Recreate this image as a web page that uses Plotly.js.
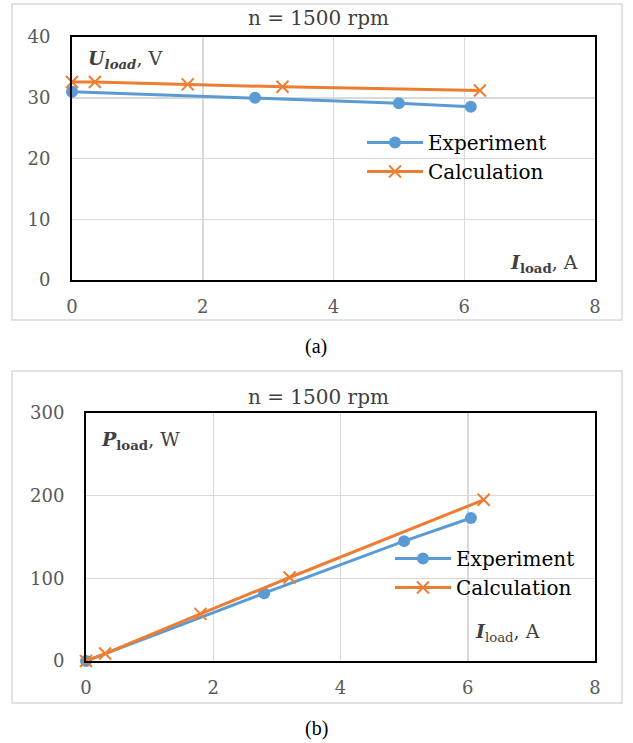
<!DOCTYPE html>
<html>
<head>
<meta charset="utf-8">
<script src="https://cdn.plot.ly/plotly-3.0.1.min.js"></script>
<style>html,body{margin:0;padding:0;background:#fff;}#chart{width:633px;height:743px;}</style>
</head>
<body>
<div id="chart"></div>
<script>
// ---- data ----
const uExpX = [0, 2.8, 5.0, 6.1];
const uExpY = [31.0, 30.0, 29.1, 28.5];
const uCalX = [0, 0.35, 1.77, 3.22, 6.24];
const uCalY = [32.6, 32.6, 32.2, 31.8, 31.2];

const pExpX = [0, 2.8, 5.0, 6.05];
const pExpY = [0, 82, 145, 173];
const pCalX = [0, 0.3, 1.8, 3.2, 6.25];
const pCalY = [0, 9, 57, 101, 195];

const xTicks = [0, 2, 4, 6, 8];
const uTicks = [0, 10, 20, 30, 40];
const pTicks = [0, 100, 200, 300];

const seriesNames = ['Experiment', 'Calculation'];
const titleText = 'n = 1500 rpm';

// ---- helpers for pixel -> paper ----
const W = 633, H = 743;
const px = v => v / W;
const py = v => 1 - v / H;

const FONT = 'DejaVu Serif';
const CAPFONT = 'Liberation Serif';
const BLUE = '#5b9bd5', ORANGE = '#ed7d31';
const tickFont = {family: FONT, size: 18, color: '#595959'};

function expTrace(x, y, xa, ya, leg) {
  return {x: x, y: y, xaxis: xa, yaxis: ya, name: seriesNames[0], mode: 'lines+markers',
    line: {color: BLUE, width: 3}, marker: {symbol: 'circle', size: 12, color: BLUE},
    cliponaxis: false, legend: leg, showlegend: true};
}
function calTrace(x, y, xa, ya, leg) {
  return {x: x, y: y, xaxis: xa, yaxis: ya, name: seriesNames[1], mode: 'lines+markers',
    line: {color: ORANGE, width: 3}, marker: {symbol: 'x-thin-open', size: 12, color: ORANGE, line: {color: ORANGE, width: 2}},
    cliponaxis: false, legend: leg, showlegend: true};
}

const data = [
  expTrace(uExpX, uExpY, 'x', 'y', 'legend'),
  calTrace(uCalX, uCalY, 'x', 'y', 'legend'),
  expTrace(pExpX, pExpY, 'x2', 'y2', 'legend2'),
  calTrace(pCalX, pCalY, 'x2', 'y2', 'legend2')
];

function xAxis(domain, anchor) {
  return {domain: domain, anchor: anchor, range: [0, 8], tickvals: xTicks, ticks: '', tickfont: tickFont,
    showgrid: true, gridcolor: '#d9d9d9', gridwidth: 1.5, zeroline: false,
    showline: true, mirror: true, linecolor: '#000', linewidth: 2, ticklabelstandoff: 9, fixedrange: true};
}
function yAxis(domain, anchor, range, ticks) {
  return {domain: domain, anchor: anchor, range: range, tickvals: ticks, ticks: '', tickfont: tickFont,
    showgrid: true, gridcolor: '#d9d9d9', gridwidth: 1.5, zeroline: false,
    showline: true, mirror: true, linecolor: '#000', linewidth: 2, ticklabelstandoff: 16, fixedrange: true};
}

const legendBase = {
  xanchor: 'left', yanchor: 'top', bgcolor: 'rgba(0,0,0,0)', borderwidth: 0,
  font: {family: FONT, size: 20, color: '#000'}, tracegroupgap: 0, itemwidth: 56
};

function ann(text, x, y, xanchor, font) {
  return {text: text, xref: 'paper', yref: 'paper', x: px(x), y: py(y), xanchor: xanchor, yanchor: 'middle',
    showarrow: false, font: font};
}
const labFont = {family: FONT, size: 19, color: '#404040'};

const layout = {
  width: W, height: H,
  margin: {l: 0, r: 0, t: 0, b: 0},
  paper_bgcolor: '#fff', plot_bgcolor: '#fff',
  showlegend: true,
  xaxis: xAxis([px(72), px(595)], 'y'),
  yaxis: yAxis([py(280), py(37)], 'x', [0, 40], uTicks),
  xaxis2: xAxis([px(86), px(595)], 'y2'),
  yaxis2: yAxis([py(661), py(413)], 'x2', [0, 300], pTicks),
  legend: Object.assign({}, legendBase, {x: px(362), y: py(123)}),
  legend2: Object.assign({}, legendBase, {x: px(390), y: py(539)}),
  shapes: [
    {type: 'rect', xref: 'paper', yref: 'paper', x0: px(12), x1: px(622), y0: py(320), y1: py(4),
      line: {color: '#d9d9d9', width: 1.5}, layer: 'below'},
    {type: 'rect', xref: 'paper', yref: 'paper', x0: px(12), x1: px(622), y0: py(703), y1: py(371),
      line: {color: '#d9d9d9', width: 1.5}, layer: 'below'}
  ],
  annotations: [
    ann(titleText, 318, 18, 'center', {family: FONT, size: 20, color: '#404040'}),
    ann(titleText, 318, 397, 'center', {family: FONT, size: 20, color: '#404040'}),
    ann('<b><i>U</i></b><sub><b><i>load</i></b></sub>, V', 86, 59, 'left', labFont),
    ann('<b><i>I</i></b><sub><b>load</b></sub>, A', 580, 263, 'right', labFont),
    ann('<b><i>P</i></b><sub><b>load</b></sub>, W', 99, 440, 'left', labFont),
    ann('<b><i>I</i></b><sub>load</sub>, A', 542, 632, 'right', labFont),
    ann('(a)', 316, 347, 'center', {family: CAPFONT, size: 20, color: '#000'}),
    ann('(b)', 316, 728, 'center', {family: CAPFONT, size: 20, color: '#000'})
  ]
};

Plotly.newPlot('chart', data, layout, {displayModeBar: false, staticPlot: true});
</script>
</body>
</html>
